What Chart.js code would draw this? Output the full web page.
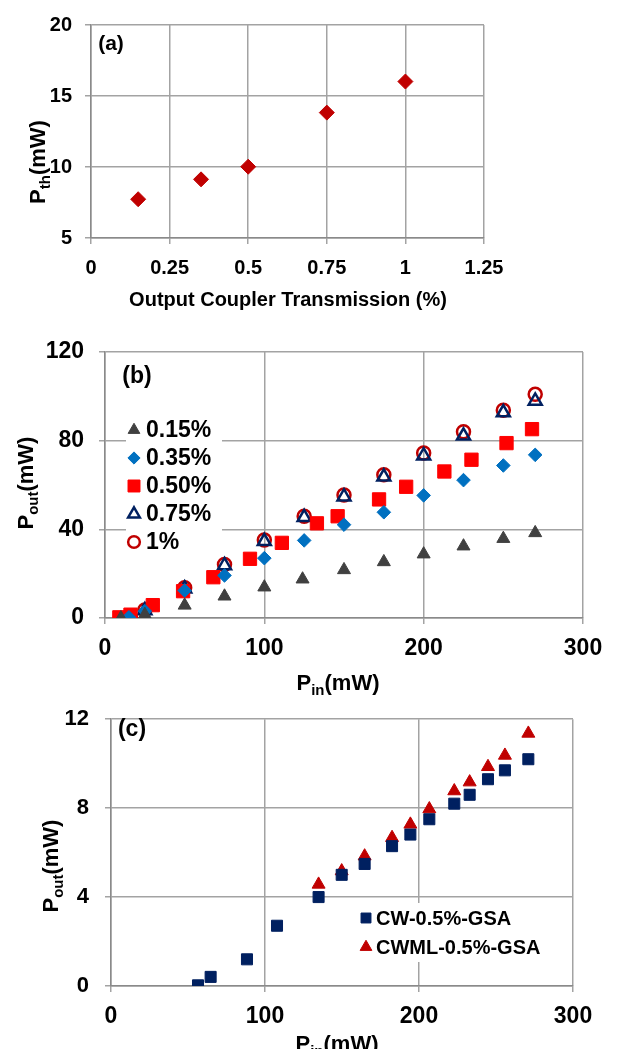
<!DOCTYPE html>
<html>
<head>
<meta charset="utf-8">
<script src="https://cdn.jsdelivr.net/npm/chart.js@4.4.0/dist/chart.umd.min.js"></script>
<style>
  body { margin: 0; background: #fff; }
  #wrap { position: relative; width: 622px; height: 1049px; overflow: hidden; }
  .panel { position: absolute; left: 0; width: 622px; }
</style>
</head>
<body>
<div id="wrap">
  <div class="panel" style="top:0;height:322px"><canvas id="chartA"></canvas></div>
  <div class="panel" style="top:322px;height:380px"><canvas id="chartB"></canvas></div>
  <div class="panel" style="top:690px;height:359px"><canvas id="chartC"></canvas></div>
</div>
<script>
const FONT = "'Liberation Sans', Arial, sans-serif";
const GRID = '#a3a3a3';
const AXIS = '#8a8a8a';
Chart.defaults.font.family = FONT;
Chart.defaults.font.weight = 'bold';

// (a) threshold vs output coupler
const couplerT = [0.15, 0.35, 0.5, 0.75, 1];
const pth = [7.73, 9.13, 10.02, 13.83, 16.02];
const xTicksA = [0, 0.25, 0.5, 0.75, 1, 1.25];
const yTicksA = [5, 10, 15, 20];

// (b) output vs input power for each coupler
const pin015 = [10, 25, 50, 75, 100, 124, 150, 175, 200, 225, 250, 270];
const pout015 = [0, 1.5, 5.7, 9.8, 13.9, 17.5, 21.7, 25.3, 28.8, 32.4, 35.8, 38.4];
const pin035 = [15, 25, 50, 75, 100, 125, 150, 175, 200, 225, 250, 270];
const pout035 = [0.3, 3.1, 12.4, 19.2, 27, 35, 42.1, 47.7, 55.3, 62.2, 68.8, 73.6];
const pin050 = [9, 16, 30, 49, 68, 91, 111, 133, 146, 172, 189, 213, 230, 252, 268];
const pout050 = [0.3, 1.5, 5.8, 12.1, 18.4, 26.7, 33.9, 42.7, 45.9, 53.5, 59.2, 66.1, 71.4, 78.9, 85.2];
const pin075 = [14, 25, 50, 75, 100, 125, 150, 175, 200, 225, 250, 270];
const pout075 = [0, 3.4, 13.2, 23.7, 34.6, 45.4, 54.7, 63.7, 73.2, 82.2, 92.7, 97.9];
const pin100 = [16, 25, 50, 75, 100, 125, 150, 175, 200, 225, 250, 270];
const pout100 = [0.4, 3.6, 13.6, 24.1, 35.2, 45.9, 55.5, 64.6, 74.4, 84, 93.7, 100.9];
const xTicksB = [0, 100, 200, 300];
const yTicksB = [0, 40, 80, 120];

// (c) CW vs CWML with GSA
const pinCW = [56.5, 64.7, 88.3, 107.8, 134.8, 149.8, 164.7, 182.5, 194.4, 206.7, 222.9, 232.9, 244.8, 255.8, 271];
const poutCW = [0.03, 0.41, 1.2, 2.71, 4.0, 5.0, 5.49, 6.29, 6.81, 7.5, 8.2, 8.6, 9.3, 9.7, 10.2];
const pinML = [134.8, 149.8, 164.7, 182.5, 194.4, 206.7, 222.9, 232.9, 244.8, 255.8, 271];
const poutML = [4.57, 5.17, 5.84, 6.67, 7.27, 7.96, 8.77, 9.17, 9.86, 10.37, 11.36];
const xTicksC = [0, 100, 200, 300];
const yTicksC = [0, 4, 8, 12];

const pts = (xs, ys) => xs.map((x, i) => ({ x, y: ys[i] }));

function scale(tickValues, fontSize, pad, fit) {
  return {
    type: 'linear',
    min: tickValues[0],
    max: tickValues[tickValues.length - 1],
    afterBuildTicks: s => { s.ticks = tickValues.map(v => ({ value: v })); },
    afterFit: fit,
    grid: { color: GRID, lineWidth: 1.5, tickLength: 6, tickColor: GRID },
    border: { color: AXIS, width: 1.5 },
    ticks: { color: '#000', padding: pad, font: { size: fontSize, weight: 'bold' }, callback: v => String(v) }
  };
}

// text with subscripts: parts alternate normal / subscript
function drawText(ctx, parts, cx, cy, rot, size) {
  ctx.save();
  ctx.translate(cx, cy);
  ctx.rotate(rot);
  ctx.fillStyle = '#000';
  ctx.textBaseline = 'alphabetic';
  const fonts = parts.map((p, i) => 'bold ' + (i % 2 ? size * 0.68 : size) + 'px ' + FONT);
  let total = 0;
  const widths = parts.map((p, i) => { ctx.font = fonts[i]; const w = ctx.measureText(p).width; total += w; return w; });
  let x = -total / 2;
  parts.forEach((p, i) => {
    ctx.font = fonts[i];
    ctx.fillText(p, x, size * 0.36 + (i % 2 ? size * 0.24 : 0));
    x += widths[i];
  });
  ctx.restore();
}

function textPlugin(items) {
  return {
    id: 'texts',
    afterDraw(chart) {
      items.forEach(t => drawText(chart.ctx, t.parts, t.x, t.y, t.rot || 0, t.size));
    }
  };
}

function legendPlugin(box, rows, fontSize) {
  return {
    id: 'boxLegend',
    afterDatasetsDraw(chart) {
      const ctx = chart.ctx;
      ctx.save();
      ctx.fillStyle = '#fff';
      ctx.fillRect(box.x, box.y, box.w, box.h);
      chart.data.datasets.forEach((ds, i) => {
        const y = rows.y0 + i * rows.dy;
        ctx.fillStyle = ds.backgroundColor;
        ctx.strokeStyle = ds.borderColor;
        ctx.lineWidth = ds.borderWidth;
        Chart.helpers.drawPoint(ctx, { pointStyle: ds.pointStyle, radius: ds.pointRadius * 0.9, borderWidth: ds.borderWidth, rotation: 0 }, rows.mx, y);
        ctx.fillStyle = '#000';
        ctx.font = 'bold ' + fontSize + 'px ' + FONT;
        ctx.textBaseline = 'middle';
        ctx.fillText(ds.label, rows.tx, y + 1);
      });
      ctx.restore();
    }
  };
}

const common = {
  responsive: true,
  maintainAspectRatio: false,
  animation: false,
  events: [],
  plugins: { legend: { display: false }, tooltip: { enabled: false } }
};

new Chart(document.getElementById('chartA'), {
  type: 'scatter',
  data: {
    datasets: [{
      label: 'Pth',
      data: pts(couplerT, pth),
      pointStyle: 'rectRot', pointRadius: 7.5,
      backgroundColor: '#c00000', borderColor: '#c00000', borderWidth: 1
    }]
  },
  options: {
    ...common,
    layout: { padding: { top: 17, right: 138, left: 0, bottom: 0 } },
    scales: {
      x: scale(xTicksA, 20, 12, s => { s.height = 84; }),
      y: scale(yTicksA, 20, 13, s => { s.width = 91; })
    }
  },
  plugins: [textPlugin([
    { parts: ['(a)'], x: 111, y: 42, size: 21 },
    { parts: ['Output Coupler Transmission (%)'], x: 288, y: 299, size: 20 },
    { parts: ['P', 'th', '(mW)'], x: 37, y: 162, rot: -Math.PI / 2, size: 22 }
  ])]
});

new Chart(document.getElementById('chartB'), {
  type: 'scatter',
  data: {
    datasets: [
      { label: '0.15%', data: pts(pin015, pout015), pointStyle: 'triangle', pointRadius: 7.5,
        backgroundColor: '#404040', borderColor: '#404040', borderWidth: 1 },
      { label: '0.35%', data: pts(pin035, pout035), pointStyle: 'rectRot', pointRadius: 6.8,
        backgroundColor: '#0070c0', borderColor: '#0070c0', borderWidth: 1 },
      { label: '0.50%', data: pts(pin050, pout050), pointStyle: 'rect', pointRadius: 9.4,
        backgroundColor: '#ff0000', borderColor: '#ff0000', borderWidth: 1 },
      { label: '0.75%', data: pts(pin075, pout075), pointStyle: 'triangle', pointRadius: 7.5,
        backgroundColor: 'rgba(0,0,0,0)', borderColor: '#002060', borderWidth: 2.5 },
      { label: '1%', data: pts(pin100, pout100), pointStyle: 'circle', pointRadius: 6.5,
        backgroundColor: 'rgba(0,0,0,0)', borderColor: '#c00000', borderWidth: 2.5 }
    ]
  },
  options: {
    ...common,
    layout: { padding: { top: 30, right: 39, left: 0, bottom: 0 } },
    scales: {
      x: scale(xTicksB, 23, 11, s => { s.height = 84; }),
      y: scale(yTicksB, 23, 15, s => { s.width = 105; })
    }
  },
  plugins: [
    legendPlugin({ x: 126, y: 94, w: 96, h: 140 }, { y0: 108, dy: 28, mx: 134, tx: 146 }, 23),
    textPlugin([
      { parts: ['(b)'], x: 137, y: 53, size: 23 },
      { parts: ['P', 'in', '(mW)'], x: 338, y: 360, size: 22 },
      { parts: ['P', 'out', '(mW)'], x: 25, y: 161, rot: -Math.PI / 2, size: 22 }
    ])
  ]
});

new Chart(document.getElementById('chartC'), {
  type: 'scatter',
  data: {
    datasets: [
      { label: 'CW-0.5%-GSA', data: pts(pinCW, poutCW), pointStyle: 'rect', pointRadius: 7.8,
        backgroundColor: '#002060', borderColor: '#002060', borderWidth: 1 },
      { label: 'CWML-0.5%-GSA', data: pts(pinML, poutML), pointStyle: 'triangle', pointRadius: 7.5,
        backgroundColor: '#c00000', borderColor: '#c00000', borderWidth: 1 }
    ]
  },
  options: {
    ...common,
    layout: { padding: { top: 16, right: 49, left: 0, bottom: 0 } },
    scales: {
      x: scale(xTicksC, 23, 11, s => { s.height = 63; }),
      y: scale(yTicksC, 22, 16, s => { s.width = 111; })
    }
  },
  plugins: [
    legendPlugin({ x: 357, y: 213, w: 193, h: 59 }, { y0: 228, dy: 29, mx: 366, tx: 376 }, 20),
    textPlugin([
      { parts: ['(c)'], x: 132, y: 38, size: 23 },
      { parts: ['P', 'in', '(mW)'], x: 337, y: 353, size: 22 },
      { parts: ['P', 'out', '(mW)'], x: 50, y: 176, rot: -Math.PI / 2, size: 22 }
    ])
  ]
});
</script>
</body>
</html>
